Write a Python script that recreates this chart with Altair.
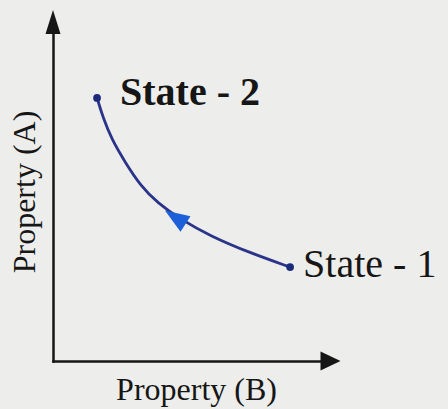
import altair as alt
import pandas as pd

# Process path from State 1 to State 2 in the (B, A) property plane
prop_b = [1.59, 1.81, 2.13, 2.60, 3.14, 3.79, 4.58, 5.67, 7.11, 8.56]
prop_a = [7.76, 7.17, 6.52, 5.87, 5.19, 4.65, 4.19, 3.69, 3.19, 2.77]

# End states
state_names = ["State - 1", "State - 2"]
state_b = [8.56, 1.59]
state_a = [2.77, 7.76]

# Direction marker on the path (points toward State 2)
marker_b = [4.45]
marker_a = [4.22]

# Axis extents (arrow tips sit at the ends of each axis)
axis_max = 10

INK = "#161616"
PATH = "#2a3488"
ARROW = "#1d5fd8"
FONT = "Liberation Serif"

path_df = pd.DataFrame({"B": prop_b, "A": prop_a})
states_df = pd.DataFrame({"B": state_b, "A": state_a, "label": state_names})
marker_df = pd.DataFrame({"B": marker_b, "A": marker_a})
axis_tips = pd.DataFrame({
    "B": [0, axis_max],
    "A": [axis_max, 0],
    "dir": ["up", "right"],
})

x_axis = alt.Axis(
    domain=True, domainColor=INK, domainWidth=2.5, domainCap="square",
    ticks=False, labels=False, grid=False,
    title="Property (B)", titleFont=FONT, titleFontSize=32,
    titleFontWeight="normal", titleColor=INK, titlePadding=13, titleX=143,
)
y_axis = alt.Axis(
    domain=True, domainColor=INK, domainWidth=2.5, domainCap="square",
    ticks=False, labels=False, grid=False,
    title="Property (A)", titleFont=FONT, titleFontSize=32,
    titleFontWeight="normal", titleColor=INK, titlePadding=12,
)
x_scale = alt.Scale(domain=[0, axis_max], nice=False, zero=False)
y_scale = alt.Scale(domain=[0, axis_max], nice=False, zero=False)

X = alt.X("B:Q", scale=x_scale, axis=x_axis)
Y = alt.Y("A:Q", scale=y_scale, axis=y_axis)

path = alt.Chart(path_df).mark_line(
    color=PATH, strokeWidth=2.8, interpolate="basis"
).encode(x=X, y=Y)

marker = alt.Chart(marker_df).mark_point(
    shape="M0,-1.1L0.75,0.9L-0.75,0.9Z", size=600, angle=303,
    filled=True, color=ARROW, opacity=1,
).encode(x=X, y=Y)

dots = alt.Chart(states_df).mark_circle(
    size=60, color="#1b2c7c", opacity=1
).encode(x=X, y=Y)

label_1 = alt.Chart(states_df).transform_filter(
    alt.datum.label == "State - 1"
).mark_text(
    font=FONT, fontSize=40, color=INK,
    align="left", baseline="alphabetic", dx=13, dy=10,
).encode(x=X, y=Y, text="label:N")

label_2 = alt.Chart(states_df).transform_filter(
    alt.datum.label == "State - 2"
).mark_text(
    font=FONT, fontSize=40, fontWeight="bold", color=INK,
    align="left", baseline="alphabetic", dx=23, dy=7,
).encode(x=X, y=Y, text="label:N")

tip_up = alt.Chart(axis_tips).transform_filter(
    alt.datum.dir == "up"
).mark_point(
    shape="M0,-1.2L0.75,1.2L-0.75,1.2Z", size=400,
    filled=True, color=INK, opacity=1,
).encode(x=X, y=Y)

tip_right = alt.Chart(axis_tips).transform_filter(
    alt.datum.dir == "right"
).mark_point(
    shape="M1.05,0L-0.95,-0.95L-0.95,0.95Z", size=400,
    filled=True, color=INK, opacity=1,
).encode(x=X, y=Y)

chart = alt.layer(
    path, marker, dots, label_1, label_2, tip_up, tip_right
).properties(
    width=277,
    height=339,
    padding={"left": 53, "top": 22, "right": 118, "bottom": 48},
    autosize=alt.AutoSizeParams(type="none"),
    background="#ededeb",
).configure_view(stroke=None)

chart.save("out.html", embed_options={"renderer": "svg", "actions": False})
